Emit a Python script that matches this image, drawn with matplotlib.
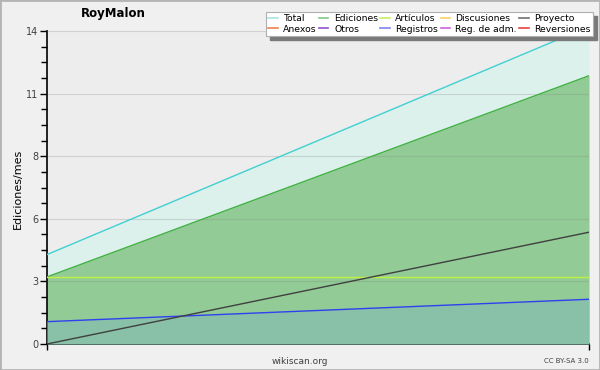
import matplotlib
matplotlib.use("Agg")
import matplotlib.pyplot as plt
from matplotlib.lines import Line2D
from matplotlib.patches import Rectangle
import numpy as np

months = [0, 1]
total = [4.0, 14.2]
ediciones = [3.0, 12.0]
articulos = [3.0, 3.0]
proyecto = [0.0, 5.0]
registros = [1.0, 2.0]

legend_labels = ["Total", "Ediciones", "Artículos", "Discusiones", "Proyecto",
                 "Anexos", "Otros", "Registros", "Reg. de adm.", "Reversiones"]
legend_colors = ["#a8e4e0", "#80c888", "#c8f060", "#f8d060", "#707070",
                 "#f08050", "#9050d0", "#8080f0", "#d060e0", "#e84040"]

ymax = 14
yticks = np.linspace(0, ymax, 6)
ytick_labels = ["0", "3", "6", "8", "11", "14"]

fig = plt.figure(figsize=(6, 3.7), dpi=100, facecolor="#f0f0f0")
fig.patches.append(Rectangle((0, 0), 1, 1, transform=fig.transFigure, fill=False,
                             edgecolor="#b4b4b4", linewidth=2, zorder=0))
ax = fig.add_axes([47/600, 26/370, 542/600, 313/370])
ax.set_facecolor("#ededee")

ax.fill_between(months, 0, total, color="#dcf0ec", zorder=1, linewidth=0)
ax.fill_between(months, 0, ediciones, color="#92cb96", zorder=2, linewidth=0)
ax.fill_between(months, 0, registros, color="#88c0a8", zorder=3, linewidth=0)
for y in yticks[1:]:
    ax.axhline(y, color="#808080", alpha=0.25, linewidth=0.8, zorder=4)

ax.plot(months, total, color="#40d0d0", linewidth=1, zorder=5)
ax.plot(months, ediciones, color="#40b040", linewidth=1, zorder=5)
ax.plot(months, articulos, color="#c0f040", linewidth=1, zorder=5)
ax.plot(months, registros, color="#3040f0", linewidth=1, zorder=5)
ax.plot(months, proyecto, color="#404040", linewidth=1, zorder=5)

ax.set_xlim(0, 1)
ax.set_ylim(0, ymax)
ax.set_yticks(yticks)
ax.set_yticklabels(ytick_labels, fontsize=7, color="#404040")
ax.set_yticks(np.linspace(0, ymax, 21), minor=True)
ax.set_xticks([0, 1])
ax.set_xticklabels([])
ax.tick_params(axis="y", which="major", length=5, width=1, pad=1)
ax.tick_params(axis="y", which="minor", length=4, width=1)
ax.tick_params(axis="x", which="major", length=4, width=1)
for s in ["top", "right"]:
    ax.spines[s].set_visible(False)
for s in ["left", "bottom"]:
    ax.spines[s].set_linewidth(1.2)

fig.text(18/600, 1 - 189/370, "Ediciones/mes", fontsize=8, rotation=90,
         ha="center", va="center")
fig.text(300/600, 1 - 361/370, "wikiscan.org", fontsize=6.5, color="#404040",
         ha="center", va="center")
fig.text(113/600, 1 - 14/370, "RoyMalon", fontsize=8.5, fontweight="bold",
         ha="center", va="center")
fig.text(589/600, 1 - 361/370, "CC BY-SA 3.0", fontsize=5, color="#404040",
         ha="right", va="center")

handles = [Line2D([0], [0], color=c, linewidth=1.2) for c in legend_colors]
order = [0, 5, 1, 6, 2, 7, 3, 8, 4, 9]
leg = fig.legend([handles[i] for i in order], [legend_labels[i] for i in order],
                 ncol=5, loc="upper right", bbox_to_anchor=(593/600, 1 - 12/370),
                 fontsize=6.7, frameon=True, fancybox=False, shadow=False,
                 framealpha=1.0,
                 handlelength=1.0, handletextpad=0.6, columnspacing=0.25,
                 labelspacing=0.15, borderpad=0.25, borderaxespad=0)
leg.get_frame().set_facecolor("white")
leg.get_frame().set_edgecolor("#b0b0b0")
leg.get_frame().set_linewidth(0.8)
leg.set_zorder(10)
fig.canvas.draw()
bb = leg.get_window_extent().transformed(fig.transFigure.inverted())
fig.patches.append(Rectangle((bb.x0 + 4/600, bb.y0 - 4/370), bb.width, bb.height,
                             transform=fig.transFigure, color="#7a7a7a", zorder=9))

fig.savefig("out.png", dpi=100, facecolor=fig.get_facecolor())
